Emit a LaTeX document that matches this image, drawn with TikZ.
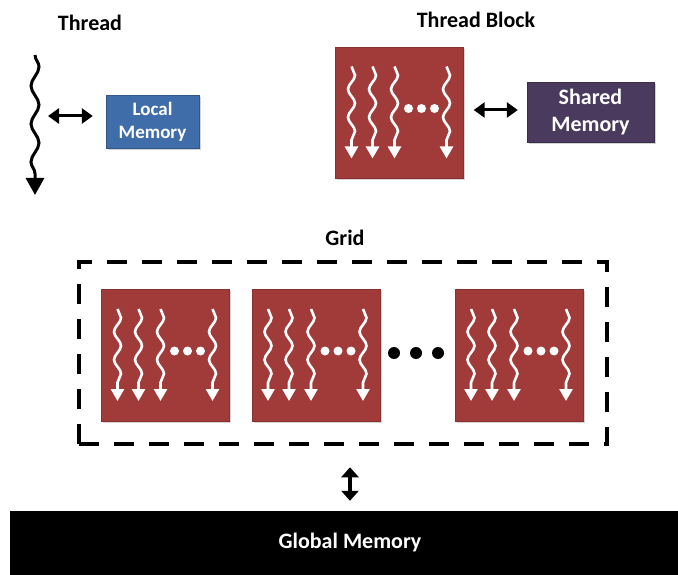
\documentclass[tikz,border=0pt]{standalone}
\usepackage{fontspec}
\setmainfont{Carlito}
\usepackage{tikz}
\usetikzlibrary{arrows.meta, calc, decorations.pathmorphing, shadows}

\definecolor{blkred}{HTML}{A03B39}
\definecolor{locblue}{HTML}{3F6DA9}
\definecolor{shpurple}{HTML}{4A3A5E}

\begin{document}
\begin{tikzpicture}[x=1pt, y=-1pt,
    lbl/.style={font=\bfseries\fontsize{22}{27}\selectfont},
    membox/.style={draw=#1!80!black, fill=#1, text=white, align=center,
      drop shadow={shadow xshift=1.5pt, shadow yshift=-2pt, opacity=0.35}},
    blockbox/.style={draw=blkred!85!black, fill=blkred, minimum width=128pt,
      minimum height=132pt,
      drop shadow={shadow xshift=1.5pt, shadow yshift=-2pt, opacity=0.35}},
    wthread/.style={white, line width=2.6pt, decorate,
      decoration={snake, amplitude=3.5pt, segment length=28pt, post length=12pt},
      -{Triangle[width=13pt,length=12pt]}},
    dblarrow/.style={line width=3pt, {Triangle[width=15pt,length=11pt]}-{Triangle[width=15pt,length=11pt]}}]
  \useasboundingbox (0,0) rectangle (678,575);

  % thread
  \node[lbl] (thlbl) at (90,23) {Thread};
  \coordinate (thtop) at (35,55);
  \coordinate (thbot) at (35,195);
  \draw[line width=3pt, decorate,
    decoration={snake, amplitude=4pt, segment length=38pt, post length=16pt},
    -{Triangle[width=18pt,length=17pt]}] (thtop) -- (thbot);
  \node[membox=locblue, minimum width=93pt, minimum height=53pt,
    font=\bfseries\fontsize{19}{23}\selectfont] (lm) at (152.5,122) {Local\\Memory};
  \coordinate (tharr) at (48,116);
  \draw[dblarrow, shorten >=13pt] (tharr) -- (lm.west |- tharr);

  % thread block
  \node[lbl] (tblbl) at (476,20) {Thread Block};
  \node[blockbox, minimum height=131pt] (tb) at (399.5,112.5) {};
  \node[membox=shpurple, minimum width=127pt, minimum height=60pt,
    font=\bfseries\fontsize{22}{27}\selectfont] (sm) at (590.5,112) {Shared\\Memory};
  \draw[dblarrow, shorten <=10pt, shorten >=9pt] (tb.east |- 0,110) -- (sm.west |- 0,110);

  % grid
  \node[lbl] (gridlbl) at (345,238) {Grid};
  \node[draw, line width=4.5pt, dash pattern=on 20pt off 15pt,
    minimum width=528pt, minimum height=182pt] (grid) at (343,353) {};
  \node[blockbox] (b1) at (165.5,355) {};
  \node[blockbox] (b2) at (316,355) {};
  \node[blockbox] (b3) at (519,355) {};
  \foreach \d in {394,416,438}
    \fill (\d,353) circle (6pt);

  % threads inside the blocks
  \foreach \b in {tb,b1,b2,b3}{
    \foreach \o in {-48,-27,-5,47}
      \draw[wthread] ($(\b)+(\o,-46)$) -- ($(\b)+(\o,46)$);
    \foreach \d in {9,22,35}
      \fill[white] ($(\b)+(\d,-4)$) circle (4.5pt);
  }

  % global memory
  \node[fill=black, text=white, minimum width=680pt, minimum height=64pt,
    font=\bfseries\fontsize{22}{27}\selectfont] (gm) at (350,543) {Global Memory};
  \draw[line width=3.5pt, {Triangle[width=17pt,length=10pt]}-{Triangle[width=17pt,length=10pt]},
    shorten <=21pt, shorten >=10pt] (gm.north |- grid.south) -- (gm.north);
\end{tikzpicture}
\end{document}
